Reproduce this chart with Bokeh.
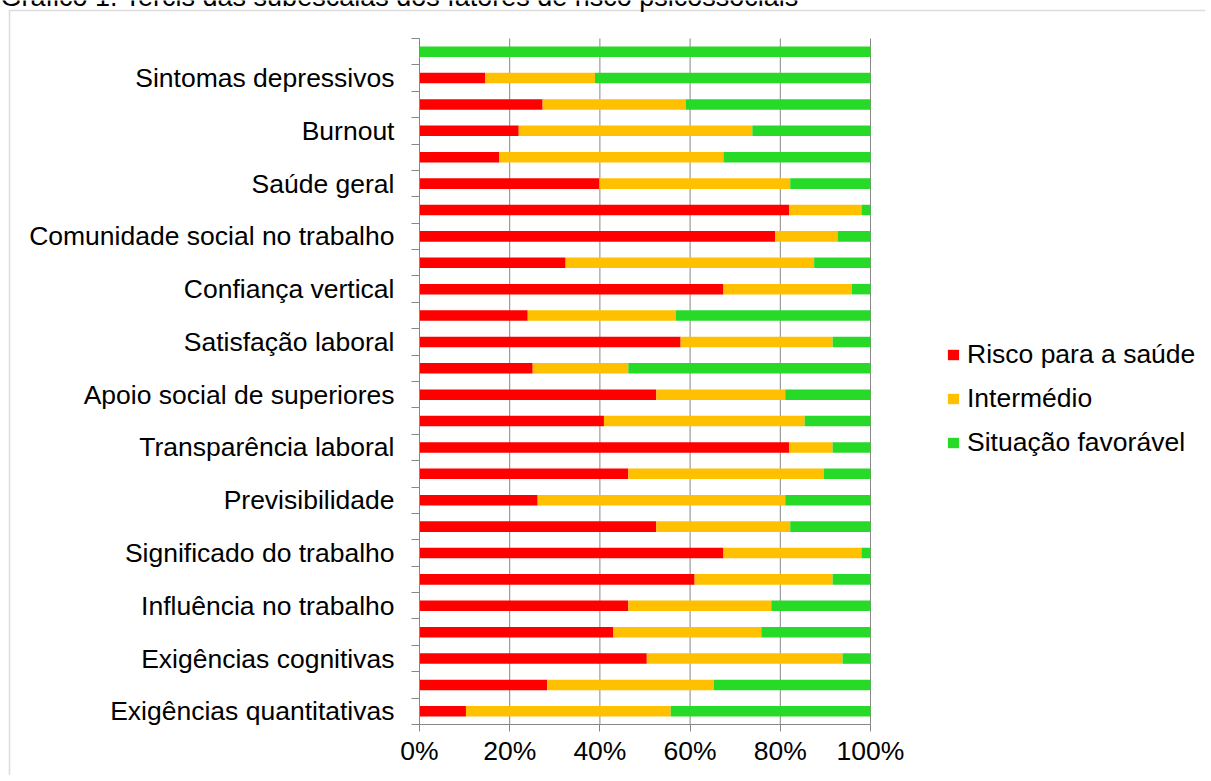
from bokeh.plotting import figure
from bokeh.models import (Range1d, FixedTicker, PrintfTickFormatter, Legend, LegendItem,
                          Label, BoxAnnotation, ColumnDataSource)
from bokeh.embed import file_html
from bokeh.resources import INLINE

# ---------------- data (bottom to top) ----------------
categories = [
    "Exigências quantitativas", "",
    "Exigências cognitivas", "",
    "Influência no trabalho", "",
    "Significado do trabalho", "",
    "Previsibilidade", "",
    "Transparência laboral", "",
    "Apoio social de superiores", "",
    "Satisfação laboral", "",
    "Confiança vertical", "",
    "Comunidade social no trabalho", "",
    "Saúde geral", "",
    "Burnout", "",
    "Sintomas depressivos", "",
]
risk = [10.3, 28.3, 50.4, 43.0, 46.3, 61.0, 67.4, 52.5, 26.2, 46.3, 82.0, 40.9, 52.5,
        25.1, 57.9, 24.0, 67.4, 32.4, 78.9, 82.0, 39.9, 17.7, 22.0, 27.3, 14.6, 0.0]
intermediate = [45.4, 37.0, 43.4, 32.8, 31.7, 30.6, 30.6, 29.7, 54.9, 43.3, 9.6, 44.5, 28.6,
                21.2, 33.7, 32.8, 28.5, 55.1, 13.8, 16.0, 42.3, 49.7, 51.8, 31.7, 24.3, 0.0]
favorable = [44.3, 34.7, 6.2, 24.2, 22.0, 8.4, 2.0, 17.8, 18.9, 10.4, 8.4, 14.6, 18.9,
             53.7, 8.4, 43.2, 4.1, 12.5, 7.3, 2.0, 17.8, 32.6, 26.2, 41.0, 61.1, 100.0]
series_names = ["Risco para a saúde", "Intermédio", "Situação favorável"]
colors = ["#FF0000", "#FFC000", "#28DA28"]
x_ticks = [0, 20, 40, 60, 80, 100]
title_text = "Gráfico 1. Tercis das subescalas dos fatores de risco psicossociais"

FONT = "Liberation Sans"
FS = "26.5px"
GRAY = "#878787"

# ---------------- layout (canvas pixels) ----------------
W, H = 1205, 775
PLOT_L, PLOT_R = 419, 870      # 0% and 100%
PLOT_T, PLOT_B = 38, 724       # top and bottom of the category axis

n = len(categories)
px_x = (PLOT_R - PLOT_L) / 100.0
px_y = (PLOT_B - PLOT_T) / float(n)

def cx(px):
    return (px - PLOT_L) / px_x

def cy(py):
    return (PLOT_B - py) / px_y

pos = [i + 0.5 for i in range(n)]
source = ColumnDataSource(dict(pos=pos, risk=risk, intermediate=intermediate,
                               favorable=favorable))

p = figure(frame_width=W, frame_height=H, output_backend="svg", toolbar_location=None,
           x_range=Range1d(cx(0), cx(W)), y_range=Range1d(cy(H), cy(0)),
           min_border=0)
p.outline_line_color = None
p.background_fill_color = "white"
p.border_fill_color = "white"
p.xgrid.visible = False
p.ygrid.visible = False

# vertical gridlines at the x ticks, spanning the category axis only
p.segment(x0=x_ticks, x1=x_ticks, y0=[0] * len(x_ticks), y1=[n] * len(x_ticks),
          line_color=GRAY, line_width=1, level="underlay")

renderers = p.hbar_stack(["risk", "intermediate", "favorable"], y="pos", height=0.4,
                         color=colors, source=source, line_width=0)

# x axis
xa = p.xaxis[0]
xa.fixed_location = 0
xa.bounds = (0, 100)
xa.ticker = FixedTicker(ticks=x_ticks, minor_ticks=[])
xa.formatter = PrintfTickFormatter(format="%d%%")
xa.axis_line_color = GRAY
xa.major_tick_line_color = GRAY
xa.major_tick_out = 7
xa.major_tick_in = 0
xa.major_label_standoff = 4
xa.major_label_text_font = FONT
xa.major_label_text_font_size = FS
xa.major_label_text_color = "black"

# y axis: ticks at category boundaries, labels at labelled categories
ya = p.yaxis[0]
ya.fixed_location = 0
ya.bounds = (0, n)
labelled_pos = [pos[i] for i, c in enumerate(categories) if c]
ya.ticker = FixedTicker(ticks=labelled_pos, minor_ticks=list(range(n + 1)))
ya.major_label_overrides = {pos[i]: c for i, c in enumerate(categories) if c}
ya.axis_line_color = GRAY
ya.major_tick_out = 0
ya.major_tick_in = 0
ya.minor_tick_out = 8
ya.minor_tick_in = 0
ya.minor_tick_line_color = GRAY
ya.major_label_standoff = 17
ya.major_label_text_font = FONT
ya.major_label_text_font_size = FS
ya.major_label_text_color = "black"

# legend
legend = Legend(items=[LegendItem(label=name, renderers=[r])
                       for name, r in zip(series_names, renderers)],
                location=(946, H - 458), orientation="vertical",
                glyph_width=14, glyph_height=13, label_standoff=7, spacing=13,
                padding=0, margin=0, border_line_color=None, background_fill_alpha=0,
                label_text_font=FONT, label_text_font_size=FS, label_text_color="black")
p.add_layout(legend, "center")

# chart-area border (top and left edges visible) and the cropped document title above it
p.add_layout(BoxAnnotation(left=cx(9), right=cx(W + 50), top=cy(10), bottom=cy(H + 50),
                           fill_alpha=0, line_color="#8c8c8c", line_width=1.5,
                           level="underlay"))
p.add_layout(Label(x=cx(0), y=cy(-4), text=title_text, text_font=FONT,
                   text_font_size="27px", text_color="black",
                   text_baseline="alphabetic"))

open("out.html", "w").write(file_html(p, INLINE))
